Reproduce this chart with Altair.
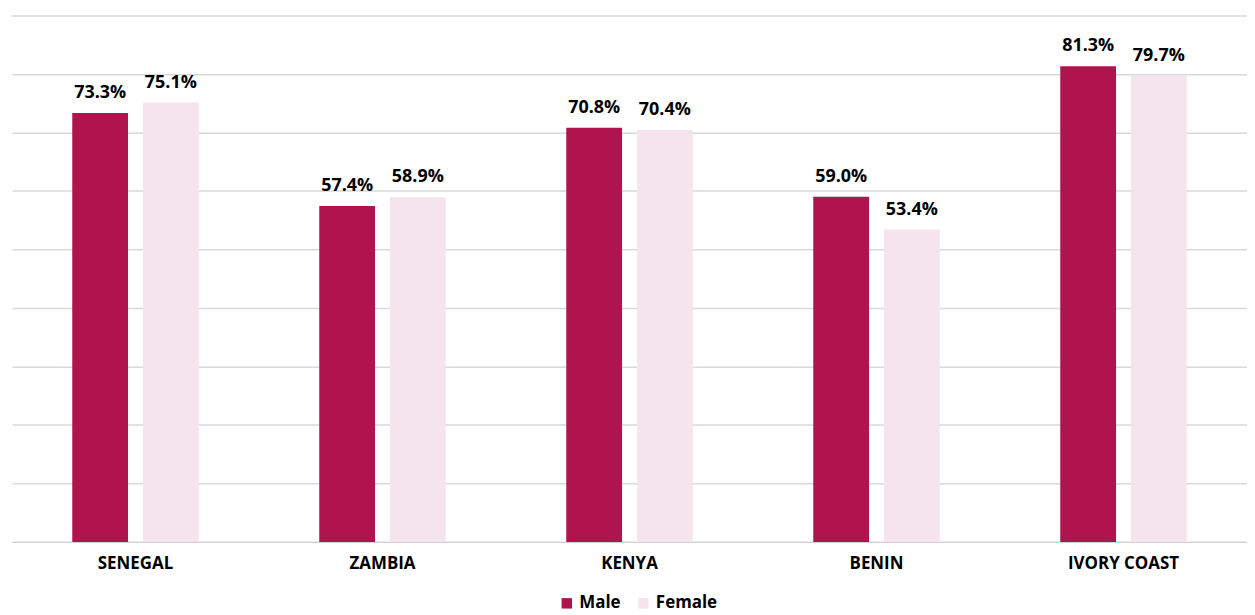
import altair as alt
import pandas as pd

countries = ["SENEGAL", "ZAMBIA", "KENYA", "BENIN", "IVORY COAST"]
male = [73.3, 57.4, 70.8, 59.0, 81.3]
female = [75.1, 58.9, 70.4, 53.4, 79.7]
series = ["Male", "Female"]
colors = ["#B0144F", "#F5E4EC"]

rows = []
for c, m, f in zip(countries, male, female):
    rows.append({"country": c, "sex": "Male", "value": m, "label": f"{m:.1f}%"})
    rows.append({"country": c, "sex": "Female", "value": f, "label": f"{f:.1f}%"})
df = pd.DataFrame(rows)

FONT = "Open Sans"

x = alt.X("country:N", sort=countries, title=None,
          scale=alt.Scale(paddingInner=0.488, paddingOuter=0.244),
          axis=alt.Axis(labelAngle=0, labelFont=FONT, labelFontWeight="bold",
                        labelFontSize=17, labelColor="#000000", labelPadding=14,
                        ticks=False, domainColor="#D0D0D0", domainWidth=1.5))
xo = alt.XOffset("sex:N", sort=series, scale=alt.Scale(paddingInner=0.211, paddingOuter=0))
y = alt.Y("value:Q", scale=alt.Scale(domain=[0, 90]), title=None,
          axis=alt.Axis(values=list(range(0, 91, 10)), labels=False, ticks=False,
                        domain=False, gridColor="#D9D9D9", gridWidth=1.5))

base = alt.Chart(df).encode(x=x, xOffset=xo)

bars = base.mark_bar().encode(
    y=y,
    color=alt.Color("sex:N", sort=series,
                    scale=alt.Scale(domain=series, range=colors),
                    legend=alt.Legend(title=None, orient="none", direction="horizontal",
                                      legendX=549, legendY=582,
                                      symbolType="square", symbolSize=110,
                                      labelFont=FONT, labelFontWeight="bold",
                                      labelFontSize=17, labelColor="#000000",
                                      columnPadding=14, symbolStrokeWidth=0)),
)

text = base.mark_text(dy=-11, font=FONT, fontWeight="bold", fontSize=18,
                      color="#000000", baseline="bottom").encode(
    y=alt.Y("value:Q"), text="label:N")

chart = (bars + text).properties(
    width=1241, height=529,
    autosize=alt.AutoSizeParams(type="none"),
    padding={"left": 4, "top": 6, "right": 0, "bottom": 70},
).configure_view(stroke=None)

chart.save("out.html", embed_options={"renderer": "svg", "actions": False})
